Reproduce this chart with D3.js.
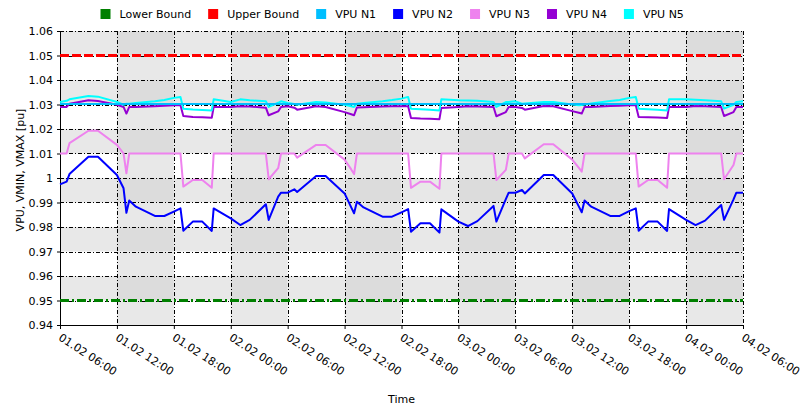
<!DOCTYPE html>
<html>
<head>
<meta charset="utf-8">
<script src="https://cdn.jsdelivr.net/npm/d3@7"></script>
<style>
  body { margin: 0; background: #fff; }
  text { font-family: "DejaVu Sans", sans-serif; fill: #000; }
</style>
</head>
<body>
<div id="chart"></div>
<script>
// hours after 01.02 06:00
const hours = [
  0, 0.7, 1, 3, 4, 6, 6.7, 7, 7.3, 8, 10, 11, 12, 12.7, 13, 14, 15, 16, 16.2, 18, 19, 20, 21.7, 22, 23, 23.3,
  24, 24.7, 25, 27, 28, 30, 30.7, 31, 31.3, 32, 34, 35, 36, 36.7, 37, 38, 39, 40, 40.2, 42, 43, 44, 45.7, 46, 47, 47.3,
  48, 48.7, 49, 51, 52, 54, 54.7, 55, 55.3, 56, 58, 59, 60, 60.7, 61, 62, 63, 64, 64.2, 66, 67, 68, 69.7, 70, 71, 71.3,
  72
];

const vpuN2 = [
  0.9974, 0.9985, 1.0016, 1.0087, 1.0087, 1.0012, 0.9958, 0.9858, 0.9908, 0.9883, 0.9845, 0.9845, 0.9863, 0.9876, 0.9785, 0.9822, 0.9822, 0.9784, 0.9876, 0.9835, 0.9808, 0.9829, 0.9893, 0.9829, 0.9924, 0.9940,
  0.9940, 0.9954, 0.9943, 1.0008, 1.0008, 0.9937, 0.9880, 0.9856, 0.9903, 0.9880, 0.9842, 0.9842, 0.9860, 0.9873, 0.9781, 0.9815, 0.9815, 0.9777, 0.9872, 0.9822, 0.9804, 0.9824, 0.9886, 0.9822, 0.9914, 0.9940,
  0.9940, 0.9951, 0.9937, 1.0012, 1.0012, 0.9937, 0.9883, 0.9860, 0.9908, 0.9883, 0.9845, 0.9845, 0.9865, 0.9876, 0.9785, 0.9822, 0.9822, 0.9784, 0.9873, 0.9829, 0.9808, 0.9826, 0.9890, 0.9829, 0.9913, 0.9940,
  0.9940
];

const vpuN3 = [
  1.0100, 1.0100, 1.0142, 1.0193, 1.0193, 1.0135, 1.0100, 1.0019, 1.0100, 1.0100, 1.0100, 1.0100, 1.0100, 1.0100, 0.9965, 0.9992, 0.9992, 0.9960, 1.0100, 1.0100, 1.0100, 1.0100, 1.0100, 0.9995, 1.0040, 1.0100,
  1.0100, 1.0100, 1.0083, 1.0135, 1.0135, 1.0075, 1.0035, 1.0016, 1.0100, 1.0100, 1.0100, 1.0100, 1.0100, 1.0100, 0.9960, 0.9985, 0.9985, 0.9956, 1.0100, 1.0100, 1.0100, 1.0100, 1.0100, 0.9992, 1.0033, 1.0100,
  1.0100, 1.0100, 1.0080, 1.0138, 1.0138, 1.0075, 1.0041, 1.0026, 1.0100, 1.0100, 1.0100, 1.0100, 1.0100, 1.0100, 0.9965, 0.9992, 0.9992, 0.9960, 1.0100, 1.0100, 1.0100, 1.0100, 1.0100, 0.9995, 1.0053, 1.0100,
  1.0100
];

const vpuN4 = [
  1.0290, 1.0290, 1.0303, 1.0317, 1.0314, 1.0299, 1.0290, 1.0263, 1.0290, 1.0290, 1.0293, 1.0295, 1.0297, 1.0297, 1.0253, 1.0249, 1.0248, 1.0246, 1.0290, 1.0290, 1.0293, 1.0292, 1.0287, 1.0256, 1.0272, 1.0290,
  1.0293, 1.0287, 1.0279, 1.0293, 1.0290, 1.0269, 1.0260, 1.0256, 1.0288, 1.0289, 1.0292, 1.0293, 1.0293, 1.0293, 1.0245, 1.0243, 1.0242, 1.0240, 1.0286, 1.0290, 1.0293, 1.0292, 1.0290, 1.0252, 1.0269, 1.0290,
  1.0290, 1.0286, 1.0279, 1.0294, 1.0293, 1.0273, 1.0266, 1.0263, 1.0290, 1.0290, 1.0294, 1.0295, 1.0297, 1.0297, 1.0249, 1.0248, 1.0247, 1.0245, 1.0290, 1.0290, 1.0294, 1.0293, 1.0290, 1.0253, 1.0269, 1.0290,
  1.0290
];

const vpuN5 = [
  1.0310, 1.0315, 1.0321, 1.0335, 1.0332, 1.0310, 1.0299, 1.0303, 1.0303, 1.0306, 1.0313, 1.0318, 1.0327, 1.0331, 1.0283, 1.0280, 1.0278, 1.0276, 1.0321, 1.0310, 1.0321, 1.0317, 1.0313, 1.0290, 1.0307, 1.0313,
  1.0306, 1.0302, 1.0299, 1.0310, 1.0308, 1.0299, 1.0293, 1.0290, 1.0303, 1.0306, 1.0313, 1.0318, 1.0324, 1.0331, 1.0283, 1.0281, 1.0279, 1.0276, 1.0321, 1.0317, 1.0316, 1.0315, 1.0310, 1.0290, 1.0310, 1.0310,
  1.0313, 1.0303, 1.0304, 1.0310, 1.0310, 1.0300, 1.0297, 1.0298, 1.0300, 1.0304, 1.0314, 1.0318, 1.0327, 1.0331, 1.0283, 1.0281, 1.0279, 1.0276, 1.0321, 1.0321, 1.0319, 1.0317, 1.0313, 1.0283, 1.0299, 1.0310,
  1.0313
];

// flat series, only start and end
const flatHours = [0, 72];
const vpuN1 = [1.0302, 1.0302];
const lowerBound = [0.95, 0.95];
const upperBound = [1.05, 1.05];

const xTicks = [0, 6, 12, 18, 24, 30, 36, 42, 48, 54, 60, 66, 72];
const xTickLabels = [
  "01.02 06:00", "01.02 12:00", "01.02 18:00", "02.02 00:00", "02.02 06:00", "02.02 12:00", "02.02 18:00",
  "03.02 00:00", "03.02 06:00", "03.02 12:00", "03.02 18:00", "04.02 00:00", "04.02 06:00"
];
const yTicks = [0.94, 0.95, 0.96, 0.97, 0.98, 0.99, 1.00, 1.01, 1.02, 1.03, 1.04, 1.05, 1.06];

const seriesNames = ["Lower Bound", "Upper Bound", "VPU N1", "VPU N2", "VPU N3", "VPU N4", "VPU N5"];
const seriesColors = ["#008000", "#ff0000", "#00bfff", "#0000ff", "#ee82ee", "#9400d3", "#00ffff"];

const W = 804, H = 414;
const margin = { top: 31, right: 61, bottom: 89, left: 60 };
const width = W - margin.left - margin.right,
      height = H - margin.top - margin.bottom;

const svg = d3.select("#chart").append("svg")
  .attr("width", W).attr("height", H);

const g = svg.append("g")
  .attr("transform", `translate(${margin.left},${margin.top})`);

const x = d3.scaleLinear().domain([0, 72]).range([0, width]);
const y = d3.scaleLinear().domain([0.94, 1.06]).range([height, 0]);

// checkered background: alternate rows and columns shaded
const bg = g.append("g");
for (let i = 0; i < xTicks.length - 1; i++) {
  for (let j = 0; j < yTicks.length - 1; j++) {
    const colShade = i % 2 === 1;
    const rowShade = j % 2 === 1;
    if (!colShade && !rowShade) continue;
    bg.append("rect")
      .attr("x", x(xTicks[i]))
      .attr("y", y(yTicks[j + 1]))
      .attr("width", x(xTicks[i + 1]) - x(xTicks[i]))
      .attr("height", y(yTicks[j]) - y(yTicks[j + 1]))
      .attr("fill", colShade && rowShade ? "#dcdcdc" : "#e8e8e8");
  }
}

// grid
const grid = g.append("g")
  .attr("stroke", "#000")
  .attr("stroke-width", 1)
  .attr("stroke-dasharray", "4,2,1,2");
grid.selectAll("line.v").data(xTicks).join("line")
  .attr("x1", d => Math.round(x(d)) + 0.5).attr("x2", d => Math.round(x(d)) + 0.5)
  .attr("y1", 0).attr("y2", height);
grid.selectAll("line.h").data(yTicks).join("line")
  .attr("x1", 0).attr("x2", width)
  .attr("y1", d => Math.round(y(d)) + 0.5).attr("y2", d => Math.round(y(d)) + 0.5);

// axes
g.append("g")
  .attr("transform", `translate(0,${height})`)
  .call(d3.axisBottom(x).tickValues(xTicks).tickSize(4).tickFormat(""))
  .call(a => a.select(".domain").attr("stroke", "#000"));

g.append("g")
  .call(d3.axisLeft(y).tickValues(yTicks).tickSize(3).tickPadding(4)
    .tickFormat(d => String(+d.toFixed(2))))
  .call(a => a.select(".domain").attr("stroke", "#000"))
  .call(a => a.selectAll("text").style("font-size", "11px").style("font-family", "DejaVu Sans"));

// rotated x labels
g.append("g").selectAll("text")
  .data(xTicks)
  .join("text")
  .attr("transform", d => `translate(${x(d) + 2},${height + 8}) rotate(33)`)
  .attr("dy", "0.71em")
  .style("font-size", "11px")
  .text((d, i) => xTickLabels[i]);

// lines
const line = d3.line().x(d => x(d[0])).y(d => y(d[1]));
const zipTo = (hs, vs) => hs.map((h, i) => [h, vs[i]]);

g.append("path")
  .attr("d", line(zipTo(flatHours, lowerBound)))
  .attr("fill", "none").attr("stroke", seriesColors[0]).attr("stroke-width", 3)
  .attr("stroke-dasharray", "9,3,2,3");
g.append("path")
  .attr("d", line(zipTo(flatHours, upperBound)))
  .attr("fill", "none").attr("stroke", seriesColors[1]).attr("stroke-width", 3)
  .attr("stroke-dasharray", "9,3");

const vpu = [
  { vals: vpuN2, color: seriesColors[3] },
  { vals: vpuN3, color: seriesColors[4] },
  { vals: vpuN4, color: seriesColors[5] },
  { vals: vpuN5, color: seriesColors[6] }
];
vpu.forEach(s => {
  g.append("path")
    .attr("d", line(zipTo(hours, s.vals)))
    .attr("fill", "none").attr("stroke", s.color).attr("stroke-width", 2)
    .attr("stroke-linejoin", "round");
});
g.append("path")
  .attr("d", line(zipTo(flatHours, vpuN1)))
  .attr("fill", "none").attr("stroke", seriesColors[2]).attr("stroke-width", 2);

// axis titles
svg.append("text")
  .attr("x", margin.left + width / 2).attr("y", 403)
  .attr("text-anchor", "middle")
  .style("font-size", "11px")
  .text("Time");

svg.append("text")
  .attr("transform", `translate(24,170) rotate(-90)`)
  .attr("text-anchor", "middle")
  .style("font-size", "11px")
  .text("VPU, VMIN, VMAX [pu]");

// legend
const legend = svg.append("g");
let lx = 0;
seriesNames.forEach((name, i) => {
  const item = legend.append("g").attr("transform", `translate(${lx},0)`);
  item.append("rect")
    .attr("x", 0).attr("y", 9).attr("width", 10).attr("height", 10)
    .attr("fill", seriesColors[i]);
  const t = item.append("text")
    .attr("x", 19).attr("y", 14).attr("dy", "0.35em")
    .style("font-size", "11px")
    .text(name);
  lx += 19 + t.node().getComputedTextLength() + 17;
});
legend.attr("transform", `translate(${100.5},0)`);
</script>
</body>
</html>
